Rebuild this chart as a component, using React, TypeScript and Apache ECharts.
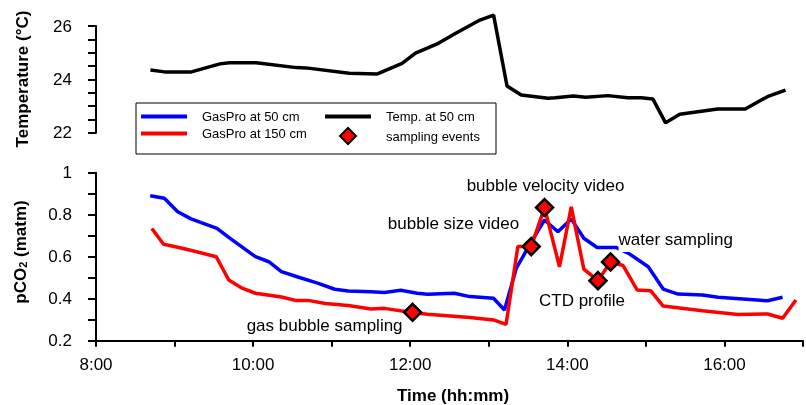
import React, { useEffect, useRef } from "react";
import * as echarts from "echarts";

// Time in decimal hours
const tempTime = [8.69, 8.87, 9.21, 9.57, 9.69, 10.03, 10.54, 10.66, 11.21, 11.56, 11.88, 12.05, 12.34, 12.56, 12.85, 13.04, 13.21, 13.39, 13.73, 13.82, 14.05, 14.21, 14.49, 14.74, 14.91, 15.06, 15.22, 15.4, 15.88, 16.23, 16.51, 16.74];
const tempValue = [24.35, 24.28, 24.28, 24.58, 24.62, 24.62, 24.44, 24.43, 24.23, 24.2, 24.6, 24.98, 25.35, 25.73, 26.2, 26.41, 23.75, 23.41, 23.29, 23.31, 23.38, 23.33, 23.39, 23.31, 23.31, 23.26, 22.37, 22.69, 22.89, 22.89, 23.35, 23.6];

const gas50Time = [8.69, 8.87, 9.04, 9.21, 9.54, 9.69, 10.03, 10.2, 10.36, 10.58, 10.83, 11.04, 11.21, 11.5, 11.67, 11.88, 12.09, 12.22, 12.56, 12.76, 13.06, 13.2, 13.35, 13.52, 13.71, 13.88, 14.05, 14.21, 14.38, 14.62, 14.78, 15.03, 15.22, 15.41, 15.72, 15.92, 16.55, 16.74];
const gas50Value = [0.89, 0.878, 0.814, 0.78, 0.735, 0.692, 0.6, 0.576, 0.529, 0.502, 0.473, 0.445, 0.437, 0.433, 0.43, 0.44, 0.426, 0.421, 0.426, 0.41, 0.402, 0.346, 0.545, 0.656, 0.775, 0.719, 0.78, 0.688, 0.644, 0.644, 0.616, 0.552, 0.446, 0.422, 0.418, 0.407, 0.39, 0.407];

const gas150Time = [8.71, 8.86, 9.04, 9.19, 9.53, 9.69, 9.86, 10.03, 10.36, 10.54, 10.7, 10.92, 11.21, 11.5, 11.67, 12.0, 12.22, 12.76, 13.06, 13.22, 13.37, 13.46, 13.54, 13.71, 13.9, 14.05, 14.21, 14.39, 14.55, 14.71, 14.89, 15.06, 15.22, 15.72, 16.17, 16.55, 16.74, 16.91];
const gas150Value = [0.734, 0.659, 0.645, 0.632, 0.6, 0.489, 0.45, 0.426, 0.408, 0.392, 0.392, 0.377, 0.368, 0.351, 0.354, 0.335, 0.326, 0.31, 0.299, 0.278, 0.648, 0.648, 0.648, 0.834, 0.552, 0.837, 0.541, 0.486, 0.575, 0.558, 0.441, 0.438, 0.365, 0.343, 0.325, 0.327, 0.307, 0.394];

const eventName = ["gas bubble sampling", "bubble size video", "bubble velocity video", "CTD profile", "water sampling"];
const eventTime = [12.03, 13.54, 13.71, 14.39, 14.55];
const eventValue = [0.335, 0.648, 0.834, 0.486, 0.575];

const FONT = "'Liberation Sans', Arial, Helvetica, sans-serif";
const TXT = "#000";
const LINE_ICON = "path://M0,0 H46 V4 H0 Z";
const DIAMOND_ICON = "path://M8,0 L16,8 L8,16 L0,8 Z";

export default function App() {
  const ref = useRef<HTMLDivElement>(null);
  useEffect(() => {
    const chart = echarts.init(ref.current!, null, { renderer: "svg" });
    const zip = (xs: number[], ys: number[]) => xs.map((x, i) => [x, ys[i]]);
    const labelLayout: any[] = [
      { align: "right", offset: [-10, 13] },
      { align: "right", offset: [-12, -23] },
      { align: "center", offset: [1, -22] },
      { align: "center", offset: [-16, 20] },
      { align: "left", offset: [8, -22], backgroundColor: "#fff", padding: [3, 2, 4, 0] },
    ];
    const axisLine = { show: true, onZero: false, lineStyle: { color: "#000", width: 2 } };
    const legendCommon = {
      orient: "vertical", top: 110, itemWidth: 46, itemHeight: 16, itemGap: 4, padding: 0,
      selectedMode: false, z: 10, symbolKeepAspect: true,
      textStyle: { fontSize: 13, color: TXT, fontFamily: FONT, padding: [0, 0, 0, 10] },
    };
    const option: any = {
      animation: false,
      textStyle: { fontFamily: FONT },
      grid: [
        { left: 96, right: -5, top: 26, bottom: 272.3 },
        { left: 96, right: -5, top: 172.7, bottom: 64.3 },
      ],
      xAxis: [
        { type: "value", gridIndex: 0, min: 8, max: 17, show: false },
        {
          type: "value", gridIndex: 1, min: 8, max: 17, interval: 1,
          axisLine,
          axisTick: { show: true, length: 6, lineStyle: { color: "#000", width: 2 } },
          axisLabel: {
            fontSize: 17, color: TXT, margin: 15, fontFamily: FONT,
            formatter: (v: number) => (Math.round(v) % 2 === 0 ? `${Math.round(v)}:00` : ""),
          },
          splitLine: { show: false },
        },
      ],
      yAxis: [
        {
          type: "value", gridIndex: 0, min: 22, max: 26, interval: 0.5,
          axisLine,
          axisTick: { show: true, length: 8, lineStyle: { color: "#000", width: 2 } },
          axisLabel: {
            fontSize: 17, color: TXT, margin: 24, fontFamily: FONT,
            formatter: (v: number) => (Math.abs(v % 2) < 1e-6 ? String(v) : ""),
          },
          splitLine: { show: false },
        },
        {
          type: "value", gridIndex: 1, min: 0.2, max: 1, interval: 0.1,
          axisLine,
          axisTick: { show: true, length: 8, lineStyle: { color: "#000", width: 2 } },
          axisLabel: {
            fontSize: 17, color: TXT, margin: 24, fontFamily: FONT,
            formatter: (v: number) => {
              const r = Math.round(v * 10);
              return r % 2 === 0 ? String(r / 10) : "";
            },
          },
          splitLine: { show: false },
        },
      ],
      legend: [
        {
          ...legendCommon, left: 141,
          data: [
            { name: "GasPro at 50 cm", icon: LINE_ICON },
            { name: "GasPro at 150 cm", icon: LINE_ICON },
          ],
        },
        {
          ...legendCommon, left: 325,
          data: [
            { name: "Temp. at 50 cm", icon: LINE_ICON },
            { name: "sampling events", icon: DIAMOND_ICON },
          ],
        },
      ],
      graphic: [
        {
          type: "rect", z: 1,
          shape: { x: 136, y: 103, width: 360, height: 51 },
          style: { fill: "#fff", stroke: "#000", lineWidth: 1 },
        },
        {
          type: "text", x: 22, y: 79, rotation: Math.PI / 2,
          style: { text: "Temperature (°C)", fontSize: 17, fontWeight: "bold", fontFamily: FONT, fill: TXT, align: "center", verticalAlign: "middle" },
        },
        {
          type: "text", x: 20, y: 252, rotation: Math.PI / 2,
          style: {
            text: "{a|pCO}{b|2}{a| (matm)}",
            fill: TXT, align: "center", verticalAlign: "middle",
            rich: {
              a: { fontSize: 17, fontWeight: "bold", fontFamily: FONT, fill: TXT },
              b: { fontSize: 11, fontWeight: "bold", fontFamily: FONT, fill: TXT, verticalAlign: "bottom" },
            },
          },
        },
        {
          type: "text", x: 453, y: 395,
          style: { text: "Time (hh:mm)", fontSize: 17, fontWeight: "bold", fontFamily: FONT, fill: TXT, align: "center", verticalAlign: "middle" },
        },
      ],
      series: [
        {
          name: "Temp. at 50 cm", type: "line", xAxisIndex: 0, yAxisIndex: 0,
          data: zip(tempTime, tempValue), symbol: "none", clip: false,
          lineStyle: { color: "#000", width: 3.5 }, itemStyle: { color: "#000" },
        },
        {
          name: "GasPro at 50 cm", type: "line", xAxisIndex: 1, yAxisIndex: 1,
          data: zip(gas50Time, gas50Value), symbol: "none",
          lineStyle: { color: "#0000ff", width: 3.5 }, itemStyle: { color: "#0000ff" },
        },
        {
          name: "GasPro at 150 cm", type: "line", xAxisIndex: 1, yAxisIndex: 1,
          data: zip(gas150Time, gas150Value), symbol: "none",
          lineStyle: { color: "#ff0000", width: 3.5 }, itemStyle: { color: "#ff0000" },
        },
        {
          name: "sampling events", type: "scatter", xAxisIndex: 1, yAxisIndex: 1,
          symbol: "diamond", symbolSize: 17, z: 5,
          itemStyle: { color: "#ff0000", borderColor: "#000", borderWidth: 2.5, opacity: 1 },
          data: eventTime.map((t, i) => ({
            name: eventName[i],
            value: [t, eventValue[i]],
            label: {
              show: true, position: "inside", formatter: eventName[i],
              fontSize: 17, color: TXT, fontFamily: FONT, verticalAlign: "middle",
              ...labelLayout[i],
            },
          })),
        },
      ],
    };
    chart.setOption(option);
    return () => chart.dispose();
  }, []);
  return <div ref={ref} style={{ position: "fixed", left: 0, top: 0, width: 806, height: 405 }} />;
}
